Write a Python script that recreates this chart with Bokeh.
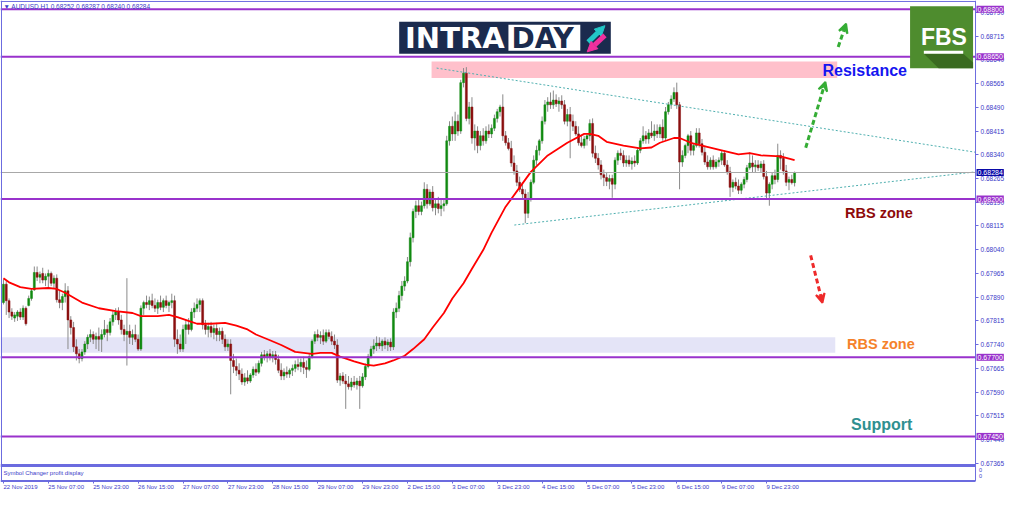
from bokeh.plotting import figure
from bokeh.models import (Range1d, FixedTicker, BoxAnnotation, Label, LabelSet, LinearAxis,
                          ColumnDataSource, Arrow, VeeHead, NormalHead, PrintfTickFormatter,
                          PolyAnnotation)
from bokeh.core.properties import value
from bokeh.embed import file_html
from bokeh.resources import INLINE

# ---------------- data (AUDUSD H1) ----------------
opens = [
    0.67873, 0.67931, 0.67879, 0.67843, 0.67824, 0.67830, 0.67843, 0.67827, 0.67855, 0.67864,
    0.67886, 0.67913, 0.67968, 0.67953, 0.67965, 0.67944, 0.67956, 0.67965, 0.67934, 0.67950,
    0.67882, 0.67873, 0.67892, 0.67910, 0.67818, 0.67794, 0.67733, 0.67711, 0.67696, 0.67717,
    0.67742, 0.67763, 0.67772, 0.67757, 0.67766, 0.67757, 0.67772, 0.67788, 0.67778, 0.67812,
    0.67834, 0.67843, 0.67818, 0.67788, 0.67772, 0.67782, 0.67763, 0.67772, 0.67757, 0.67726,
    0.67855, 0.67873, 0.67867, 0.67879, 0.67864, 0.67855, 0.67873, 0.67858, 0.67879, 0.67864,
    0.67873, 0.67879, 0.67757, 0.67742, 0.67726, 0.67788, 0.67803, 0.67788, 0.67843, 0.67855,
    0.67867, 0.67879, 0.67803, 0.67788, 0.67797, 0.67778, 0.67791, 0.67772, 0.67782, 0.67757,
    0.67733, 0.67742, 0.67690, 0.67671, 0.67659, 0.67647, 0.67622, 0.67635, 0.67625, 0.67644,
    0.67662, 0.67653, 0.67681, 0.67708, 0.67702, 0.67711, 0.67699, 0.67708, 0.67693, 0.67659,
    0.67641, 0.67653, 0.67647, 0.67659, 0.67665, 0.67677, 0.67671, 0.67684, 0.67668, 0.67662,
    0.67702, 0.67751, 0.67772, 0.67763, 0.67769, 0.67751, 0.67778, 0.67766, 0.67751, 0.67739,
    0.67628, 0.67641, 0.67625, 0.67616, 0.67607, 0.67622, 0.67613, 0.67625, 0.67610, 0.67638,
    0.67671, 0.67702, 0.67726, 0.67736, 0.67745, 0.67736, 0.67751, 0.67739, 0.67748, 0.67733,
    0.67843, 0.67855, 0.67895, 0.67925, 0.67941, 0.68002, 0.68078, 0.68161, 0.68179, 0.68161,
    0.68179, 0.68231, 0.68185, 0.68222, 0.68173, 0.68185, 0.68170, 0.68179, 0.68185, 0.68384,
    0.68430, 0.68406, 0.68446, 0.68415, 0.68568, 0.68598, 0.68455, 0.68491, 0.68393, 0.68415,
    0.68369, 0.68400, 0.68384, 0.68415, 0.68406, 0.68424, 0.68455, 0.68476, 0.68491, 0.68400,
    0.68378, 0.68360, 0.68314, 0.68289, 0.68253, 0.68231, 0.68216, 0.68155, 0.68201, 0.68253,
    0.68323, 0.68354, 0.68384, 0.68446, 0.68498, 0.68507, 0.68498, 0.68513, 0.68501, 0.68510,
    0.68498, 0.68446, 0.68467, 0.68446, 0.68430, 0.68406, 0.68378, 0.68369, 0.68390, 0.68400,
    0.68439, 0.68345, 0.68329, 0.68308, 0.68277, 0.68268, 0.68256, 0.68265, 0.68247, 0.68323,
    0.68345, 0.68338, 0.68314, 0.68323, 0.68311, 0.68320, 0.68314, 0.68354, 0.68384, 0.68400,
    0.68390, 0.68409, 0.68400, 0.68415, 0.68406, 0.68427, 0.68393, 0.68476, 0.68498, 0.68516,
    0.68537, 0.68498, 0.68317, 0.68338, 0.68369, 0.68400, 0.68354, 0.68369, 0.68409, 0.68375,
    0.68348, 0.68317, 0.68302, 0.68323, 0.68302, 0.68317, 0.68323, 0.68345, 0.68308, 0.68286,
    0.68237, 0.68253, 0.68241, 0.68228, 0.68247, 0.68262, 0.68299, 0.68314, 0.68302, 0.68308,
    0.68299, 0.68311, 0.68271, 0.68219, 0.68247, 0.68274, 0.68262, 0.68338, 0.68329, 0.68289,
    0.68253, 0.68262, 0.68252,
]
highs = [
    0.67947, 0.67941, 0.67886, 0.67855, 0.67843, 0.67849, 0.67855, 0.67864, 0.67861, 0.67895,
    0.67916, 0.67987, 0.67987, 0.67971, 0.67983, 0.67965, 0.67977, 0.67971, 0.67959, 0.67962,
    0.67910, 0.67901, 0.67934, 0.67925, 0.67830, 0.67812, 0.67757, 0.67726, 0.67726, 0.67751,
    0.67772, 0.67788, 0.67782, 0.67778, 0.67794, 0.67788, 0.67818, 0.67803, 0.67824, 0.67849,
    0.67855, 0.67858, 0.67834, 0.67803, 0.67950, 0.67803, 0.67788, 0.67803, 0.67772, 0.67864,
    0.67879, 0.67895, 0.67892, 0.67901, 0.67886, 0.67882, 0.67895, 0.67886, 0.67895, 0.67879,
    0.67901, 0.67895, 0.67788, 0.67772, 0.67803, 0.67818, 0.67824, 0.67855, 0.67873, 0.67886,
    0.67886, 0.67886, 0.67818, 0.67809, 0.67812, 0.67803, 0.67809, 0.67794, 0.67794, 0.67772,
    0.67757, 0.67757, 0.67711, 0.67696, 0.67681, 0.67665, 0.67650, 0.67659, 0.67650, 0.67671,
    0.67681, 0.67690, 0.67717, 0.67723, 0.67720, 0.67726, 0.67720, 0.67720, 0.67708, 0.67681,
    0.67665, 0.67671, 0.67665, 0.67677, 0.67690, 0.67696, 0.67696, 0.67702, 0.67690, 0.67714,
    0.67757, 0.67782, 0.67788, 0.67782, 0.67788, 0.67788, 0.67788, 0.67782, 0.67772, 0.67757,
    0.67650, 0.67653, 0.67647, 0.67641, 0.67635, 0.67641, 0.67635, 0.67641, 0.67650, 0.67681,
    0.67711, 0.67736, 0.67757, 0.67766, 0.67763, 0.67757, 0.67763, 0.67757, 0.67760, 0.67855,
    0.67873, 0.67910, 0.67941, 0.67956, 0.68017, 0.68094, 0.68170, 0.68195, 0.68201, 0.68192,
    0.68253, 0.68247, 0.68231, 0.68241, 0.68201, 0.68207, 0.68201, 0.68201, 0.68400, 0.68446,
    0.68461, 0.68476, 0.68467, 0.68577, 0.68614, 0.68617, 0.68507, 0.68522, 0.68436, 0.68430,
    0.68415, 0.68424, 0.68430, 0.68436, 0.68436, 0.68467, 0.68485, 0.68498, 0.68531, 0.68415,
    0.68393, 0.68384, 0.68338, 0.68308, 0.68271, 0.68253, 0.68231, 0.68222, 0.68262, 0.68338,
    0.68369, 0.68390, 0.68461, 0.68513, 0.68522, 0.68537, 0.68543, 0.68531, 0.68522, 0.68528,
    0.68513, 0.68485, 0.68491, 0.68467, 0.68446, 0.68430, 0.68400, 0.68400, 0.68406, 0.68452,
    0.68455, 0.68369, 0.68345, 0.68323, 0.68293, 0.68283, 0.68277, 0.68277, 0.68332, 0.68354,
    0.68360, 0.68354, 0.68338, 0.68338, 0.68332, 0.68338, 0.68363, 0.68393, 0.68430, 0.68415,
    0.68421, 0.68446, 0.68436, 0.68436, 0.68436, 0.68452, 0.68491, 0.68507, 0.68528, 0.68553,
    0.68568, 0.68507, 0.68354, 0.68375, 0.68406, 0.68415, 0.68375, 0.68424, 0.68424, 0.68390,
    0.68369, 0.68338, 0.68332, 0.68338, 0.68326, 0.68332, 0.68354, 0.68354, 0.68323, 0.68302,
    0.68262, 0.68268, 0.68262, 0.68253, 0.68271, 0.68308, 0.68348, 0.68338, 0.68323, 0.68323,
    0.68320, 0.68323, 0.68289, 0.68253, 0.68283, 0.68293, 0.68375, 0.68354, 0.68345, 0.68308,
    0.68271, 0.68277, 0.68287,
]
lows = [
    0.67867, 0.67834, 0.67824, 0.67818, 0.67812, 0.67815, 0.67818, 0.67818, 0.67800, 0.67861,
    0.67879, 0.67910, 0.67941, 0.67934, 0.67934, 0.67925, 0.67922, 0.67925, 0.67916, 0.67873,
    0.67855, 0.67849, 0.67873, 0.67726, 0.67772, 0.67717, 0.67690, 0.67681, 0.67687, 0.67708,
    0.67726, 0.67748, 0.67742, 0.67726, 0.67720, 0.67717, 0.67763, 0.67751, 0.67769, 0.67800,
    0.67818, 0.67803, 0.67772, 0.67751, 0.67674, 0.67742, 0.67739, 0.67748, 0.67720, 0.67720,
    0.67834, 0.67855, 0.67849, 0.67855, 0.67843, 0.67837, 0.67849, 0.67843, 0.67855, 0.67843,
    0.67855, 0.67733, 0.67711, 0.67717, 0.67717, 0.67742, 0.67772, 0.67782, 0.67824, 0.67843,
    0.67843, 0.67788, 0.67772, 0.67763, 0.67763, 0.67757, 0.67751, 0.67751, 0.67742, 0.67720,
    0.67720, 0.67583, 0.67650, 0.67641, 0.67628, 0.67613, 0.67610, 0.67616, 0.67619, 0.67635,
    0.67641, 0.67647, 0.67671, 0.67690, 0.67684, 0.67690, 0.67684, 0.67677, 0.67650, 0.67628,
    0.67628, 0.67635, 0.67635, 0.67641, 0.67653, 0.67659, 0.67653, 0.67647, 0.67635, 0.67656,
    0.67696, 0.67742, 0.67751, 0.67742, 0.67739, 0.67745, 0.67757, 0.67739, 0.67726, 0.67619,
    0.67610, 0.67616, 0.67537, 0.67598, 0.67595, 0.67604, 0.67598, 0.67537, 0.67604, 0.67628,
    0.67665, 0.67696, 0.67711, 0.67720, 0.67726, 0.67720, 0.67726, 0.67720, 0.67720, 0.67723,
    0.67824, 0.67843, 0.67879, 0.67910, 0.67934, 0.67987, 0.68063, 0.68140, 0.68149, 0.68149,
    0.68170, 0.68170, 0.68179, 0.68161, 0.68149, 0.68155, 0.68146, 0.68161, 0.68179, 0.68369,
    0.68384, 0.68384, 0.68400, 0.68406, 0.68553, 0.68446, 0.68436, 0.68375, 0.68354, 0.68345,
    0.68354, 0.68369, 0.68375, 0.68393, 0.68393, 0.68415, 0.68442, 0.68461, 0.68384, 0.68369,
    0.68354, 0.68302, 0.68277, 0.68241, 0.68222, 0.68201, 0.68124, 0.68140, 0.68192, 0.68247,
    0.68308, 0.68338, 0.68375, 0.68436, 0.68476, 0.68485, 0.68485, 0.68491, 0.68476, 0.68485,
    0.68436, 0.68430, 0.68329, 0.68415, 0.68400, 0.68369, 0.68363, 0.68360, 0.68369, 0.68384,
    0.68332, 0.68314, 0.68293, 0.68262, 0.68241, 0.68241, 0.68231, 0.68204, 0.68231, 0.68308,
    0.68323, 0.68302, 0.68302, 0.68302, 0.68293, 0.68302, 0.68308, 0.68345, 0.68375, 0.68375,
    0.68375, 0.68393, 0.68384, 0.68393, 0.68393, 0.68384, 0.68384, 0.68467, 0.68485, 0.68507,
    0.68485, 0.68231, 0.68302, 0.68329, 0.68345, 0.68338, 0.68338, 0.68363, 0.68363, 0.68338,
    0.68308, 0.68293, 0.68293, 0.68293, 0.68296, 0.68302, 0.68308, 0.68302, 0.68277, 0.68207,
    0.68222, 0.68231, 0.68216, 0.68216, 0.68234, 0.68253, 0.68293, 0.68283, 0.68283, 0.68289,
    0.68283, 0.68262, 0.68201, 0.68179, 0.68231, 0.68247, 0.68253, 0.68293, 0.68277, 0.68241,
    0.68228, 0.68246, 0.68240,
]
closes = [
    0.67931, 0.67879, 0.67843, 0.67830, 0.67834, 0.67843, 0.67827, 0.67855, 0.67806, 0.67886,
    0.67910, 0.67968, 0.67953, 0.67962, 0.67944, 0.67956, 0.67965, 0.67934, 0.67950, 0.67882,
    0.67873, 0.67892, 0.67910, 0.67818, 0.67794, 0.67733, 0.67711, 0.67696, 0.67717, 0.67742,
    0.67763, 0.67772, 0.67757, 0.67766, 0.67757, 0.67772, 0.67788, 0.67778, 0.67812, 0.67834,
    0.67843, 0.67818, 0.67788, 0.67772, 0.67782, 0.67763, 0.67772, 0.67757, 0.67726, 0.67855,
    0.67873, 0.67867, 0.67879, 0.67864, 0.67855, 0.67873, 0.67858, 0.67879, 0.67864, 0.67873,
    0.67879, 0.67757, 0.67742, 0.67726, 0.67788, 0.67803, 0.67788, 0.67843, 0.67855, 0.67867,
    0.67879, 0.67803, 0.67788, 0.67797, 0.67778, 0.67791, 0.67772, 0.67782, 0.67757, 0.67733,
    0.67742, 0.67690, 0.67671, 0.67659, 0.67647, 0.67622, 0.67635, 0.67625, 0.67644, 0.67662,
    0.67653, 0.67681, 0.67708, 0.67702, 0.67711, 0.67699, 0.67708, 0.67693, 0.67659, 0.67641,
    0.67653, 0.67647, 0.67659, 0.67665, 0.67677, 0.67671, 0.67684, 0.67668, 0.67662, 0.67702,
    0.67751, 0.67772, 0.67763, 0.67769, 0.67751, 0.67778, 0.67766, 0.67751, 0.67739, 0.67628,
    0.67641, 0.67625, 0.67616, 0.67607, 0.67622, 0.67613, 0.67625, 0.67610, 0.67638, 0.67671,
    0.67702, 0.67726, 0.67736, 0.67745, 0.67736, 0.67751, 0.67739, 0.67748, 0.67733, 0.67843,
    0.67855, 0.67895, 0.67925, 0.67941, 0.68002, 0.68078, 0.68161, 0.68179, 0.68161, 0.68179,
    0.68231, 0.68185, 0.68222, 0.68173, 0.68185, 0.68170, 0.68179, 0.68185, 0.68384, 0.68430,
    0.68406, 0.68446, 0.68415, 0.68568, 0.68598, 0.68455, 0.68491, 0.68393, 0.68415, 0.68369,
    0.68400, 0.68384, 0.68415, 0.68406, 0.68424, 0.68455, 0.68476, 0.68491, 0.68400, 0.68378,
    0.68360, 0.68314, 0.68289, 0.68253, 0.68231, 0.68216, 0.68155, 0.68201, 0.68253, 0.68323,
    0.68354, 0.68384, 0.68446, 0.68498, 0.68507, 0.68498, 0.68513, 0.68501, 0.68510, 0.68498,
    0.68446, 0.68467, 0.68446, 0.68430, 0.68406, 0.68378, 0.68369, 0.68390, 0.68400, 0.68439,
    0.68345, 0.68329, 0.68308, 0.68277, 0.68268, 0.68256, 0.68265, 0.68247, 0.68323, 0.68345,
    0.68338, 0.68314, 0.68323, 0.68311, 0.68320, 0.68314, 0.68354, 0.68384, 0.68400, 0.68390,
    0.68409, 0.68400, 0.68415, 0.68406, 0.68427, 0.68393, 0.68476, 0.68498, 0.68516, 0.68537,
    0.68498, 0.68317, 0.68338, 0.68369, 0.68400, 0.68354, 0.68369, 0.68409, 0.68375, 0.68348,
    0.68317, 0.68302, 0.68323, 0.68302, 0.68317, 0.68323, 0.68345, 0.68308, 0.68286, 0.68237,
    0.68253, 0.68241, 0.68228, 0.68247, 0.68262, 0.68299, 0.68314, 0.68302, 0.68308, 0.68299,
    0.68311, 0.68271, 0.68219, 0.68247, 0.68274, 0.68262, 0.68338, 0.68329, 0.68289, 0.68253,
    0.68262, 0.68252, 0.68284,
]

# moving average (red line), read at selected bars
ma_bars = [0, 2, 6, 10, 16, 19, 22, 28, 34, 40, 46, 49, 55, 59, 62, 67, 69, 74, 79, 83,
           87, 90, 95, 99, 104, 110, 113, 117, 120, 125, 129, 132, 136, 139, 143, 146, 150, 153, 157, 160,
           164, 167, 171, 174, 179, 184, 188, 194, 201, 207, 209, 212, 215, 221, 227, 231, 234, 239, 241, 245,
           249, 256, 262, 266, 270, 277, 282]
ma_values = [0.67950, 0.67937, 0.67922, 0.67916, 0.67919, 0.67916, 0.67904, 0.67873, 0.67855, 0.67846,
             0.67840, 0.67830, 0.67830, 0.67834, 0.67827, 0.67812, 0.67806, 0.67806, 0.67809, 0.67800,
             0.67788, 0.67772, 0.67754, 0.67739, 0.67717, 0.67711, 0.67714, 0.67714, 0.67702, 0.67687,
             0.67677, 0.67674, 0.67681, 0.67690, 0.67705, 0.67726, 0.67757, 0.67794, 0.67840, 0.67886,
             0.67934, 0.67980, 0.68039, 0.68094, 0.68176, 0.68237, 0.68286, 0.68338, 0.68378, 0.68406,
             0.68406, 0.68400, 0.68381, 0.68369, 0.68360, 0.68363, 0.68378, 0.68393, 0.68393, 0.68378,
             0.68369, 0.68354, 0.68341, 0.68345, 0.68338, 0.68335, 0.68323]

# time axis labels, one every 16 bars
time_labels = ["22 Nov 2019", "25 Nov 07:00", "25 Nov 23:00", "26 Nov 15:00", "27 Nov 07:00",
               "27 Nov 23:00", "28 Nov 15:00", "29 Nov 07:00", "29 Nov 23:00", "2 Dec 15:00",
               "3 Dec 07:00", "3 Dec 23:00", "4 Dec 15:00", "5 Dec 07:00", "5 Dec 23:00",
               "6 Dec 15:00", "9 Dec 07:00", "9 Dec 23:00"]
time_label_bars = [0, 16, 32, 48, 64, 80, 96, 112, 128, 144, 160, 176, 192, 208, 224, 240, 256, 272]

price_ticks = [0.67365, 0.67440, 0.67515, 0.67590, 0.67665, 0.67740, 0.67815, 0.67890, 0.67965, 0.68040,
               0.68115, 0.68190, 0.68265, 0.68340, 0.68415, 0.68490, 0.68565, 0.68640, 0.68715, 0.68790]

# drawn objects
levels = [0.68800, 0.68650, 0.68200, 0.67700, 0.67450]
resistance_zone = [0.68583, 0.68635]
resistance_zone_bars = [152.6, 297.2]
rbs_zone = [0.67714, 0.67763]
rbs_zone_end_bar = 296.5
upper_trend_bars = [154.4, 346.5]
upper_trend_prices = [0.68614, 0.68348]
lower_trend_bars = [182.1, 346.5]
lower_trend_prices = [0.68118, 0.68286]


# ---------------- geometry helpers (decorations / frame only) ----------------
def bx(px):
    return (px - 3.0) / 2.85


def py(px):
    return 0.688 - (px - 9.0) / 32667.0


XL, XR = bx(0), bx(1024)
YB, YT = py(511), py(0)
AXIS_X = bx(990.5)
AXIS_Y = py(496)

AX = "#6B6BDF"
TXT = "#3C3CC8"
PURPLE = "#9932CC"
FONT = "Liberation Sans"

p = figure(width=1008, height=495, x_range=Range1d(XL, XR), y_range=Range1d(YB, YT),
           output_backend="svg", toolbar_location=None, x_axis_location=None, y_axis_location=None,
           min_border=0, min_border_left=0, min_border_right=0, min_border_top=0, min_border_bottom=0,
           background_fill_color="white", border_fill_color="white")
p.xgrid.visible = False
p.ygrid.visible = False
p.outline_line_color = None

# price axis drawn at the right edge of the chart area
yax = LinearAxis(fixed_location=AXIS_X, ticker=FixedTicker(ticks=price_ticks),
                 formatter=PrintfTickFormatter(format="%.5f"))
yax.axis_line_color = None
yax.major_tick_line_color = AX
yax.major_tick_out = 3
yax.major_tick_in = 0
yax.minor_tick_line_color = None
yax.major_label_text_font = FONT
yax.major_label_text_font_size = "6.5px"
yax.major_label_text_color = TXT
yax.major_label_standoff = 2
p.add_layout(yax, "right")

# time axis (ticks) at the bottom of the chart area
xax = LinearAxis(fixed_location=AXIS_Y, ticker=FixedTicker(ticks=time_label_bars))
xax.axis_line_color = None
xax.major_tick_line_color = AX
xax.major_tick_out = 3
xax.major_tick_in = 0
xax.minor_tick_line_color = None
xax.major_label_text_color = None
xax.major_label_text_font_size = "6px"
p.add_layout(xax, "below")

# zones (behind candles)
p.add_layout(BoxAnnotation(left=resistance_zone_bars[0], right=resistance_zone_bars[1],
                           bottom=resistance_zone[0], top=resistance_zone[1],
                           fill_color="#FFC0CB", fill_alpha=1, line_alpha=0, level="underlay"))
p.add_layout(BoxAnnotation(left=XL, right=rbs_zone_end_bar, bottom=rbs_zone[0], top=rbs_zone[1],
                           fill_color="#E4E4F7", fill_alpha=1, line_alpha=0, level="underlay"))

# candles
idx = list(range(len(closes)))
tops = [max(o, c) for o, c in zip(opens, closes)]
bots = [min(o, c) for o, c in zip(opens, closes)]
cols = ["#118A11" if c >= o else "#8B0F0F" for o, c in zip(opens, closes)]
src = ColumnDataSource(dict(x=idx, h=highs, l=lows, top=tops, bot=bots, col=cols))
p.segment(x0="x", y0="h", x1="x", y1="l", source=src, line_color="#8A8A8A", line_width=1)
p.vbar(x="x", width=0.7, top="top", bottom="bot", source=src, fill_color="col", line_color="col",
       line_width=0.5)

# moving average
p.line(ma_bars, ma_values, line_color="#FF0000", line_width=1.8)

# trend lines
p.line(upper_trend_bars, upper_trend_prices, line_color="#4FAFAF", line_width=1, line_dash="2 2")
p.line(lower_trend_bars, lower_trend_prices, line_color="#4FAFAF", line_width=1, line_dash="2 2")

# current price line and horizontal levels (up to the price scale)
p.segment(x0=[XL], y0=[closes[-1]], x1=[AXIS_X], y1=[closes[-1]], line_color="#A8A8A8", line_width=1)
p.segment(x0=[XL] * len(levels), y0=levels, x1=[AXIS_X] * len(levels), y1=levels,
          line_color=PURPLE, line_width=2)

# chart frame: left/top border, price-scale line, sub-window separator, time-scale line
p.segment(x0=[bx(1), XL, AXIS_X, XL, XL], y0=[YT, py(1), YT, py(480), AXIS_Y],
          x1=[bx(1), AXIS_X, AXIS_X, AXIS_X, AXIS_X], y1=[AXIS_Y, py(1), AXIS_Y, py(480), AXIS_Y],
          line_color=AX, line_width=[1, 1, 1, 3, 2])

p.add_layout(Label(x=bx(3), y=py(487.5), text="Symbol Changer profit display",
                   text_font=FONT, text_font_size="6px", text_color=TXT, text_baseline="middle"))
p.add_layout(Label(x=bx(994), y=py(485), text="0", text_font=FONT, text_font_size="5.5px",
                   text_color=TXT, text_baseline="middle"))
p.add_layout(Label(x=bx(994), y=py(491), text="0", text_font=FONT, text_font_size="5.5px",
                   text_color=TXT, text_baseline="middle"))

# right price tags
for lv in levels:
    p.add_layout(Label(x=AXIS_X, y=lv, x_offset=1, text=f"{lv:.5f}", text_font=FONT,
                       text_font_size="7px", text_color="white", text_baseline="middle",
                       background_fill_color=PURPLE, padding=1))
p.add_layout(Label(x=AXIS_X, y=closes[-1], x_offset=1, text=f"{closes[-1]:.5f}", text_font=FONT,
                   text_font_size="7px", text_color="white", text_baseline="middle",
                   background_fill_color="#0A0AA8", padding=1))

# time labels (left aligned at their tick, like MT4)
tsrc = ColumnDataSource(dict(x=time_label_bars, y=[AXIS_Y] * len(time_label_bars), t=time_labels))
p.add_layout(LabelSet(x="x", y="y", text="t", source=tsrc, text_align="left", text_baseline="top",
                      y_offset=-3.5, x_offset=0, text_font=value(FONT),
                      text_font_size=value("6px"), text_color=TXT))

# header
p.add_layout(Label(x=bx(3), y=py(6), text=f"\u25bc AUDUSD,H1 {opens[-1]:.5f} {highs[-1]:.5f} "
                                          f"{lows[-1]:.5f} {closes[-1]:.5f}",
                   text_font=FONT, text_font_size="6.5px", text_color=TXT, text_baseline="middle"))

# arrows
GREEN = "#35AD35"
RED = "#EE2A2A"
for (xs, ys, ye, xe, col) in [
    (818, 152, 84, 838, GREEN),
    (851, 48, 24, 859, GREEN),
    (823, 263, 312, 835, RED),
]:
    p.add_layout(Arrow(end=VeeHead(size=9, fill_color=col, line_color=col, line_width=2),
                       x_start=bx(xs), y_start=py(ys), x_end=bx(xe), y_end=py(ye),
                       line_color=col, line_width=3, line_dash="5 3"))

# annotation texts
for (txt, xpx, ypx, col, size) in [
    ("Resistance", 835, 72, "#1515F0", "16px"),
    ("RBS zone", 858, 219, "#8E0A0A", "14.5px"),
    ("RBS zone", 860, 355, "#F5822A", "14.5px"),
    ("Support", 864, 438, "#2F9090", "16px"),
]:
    p.add_layout(Label(x=bx(xpx), y=py(ypx), text=txt, text_font=FONT,
                       text_font_style="bold", text_font_size=size, text_color=col,
                       text_baseline="middle"))

# INTRADAY logo
NAVY = "#1B2B4E"
p.add_layout(BoxAnnotation(left=bx(405), right=bx(620), top=py(22), bottom=py(55),
                           fill_color=NAVY, fill_alpha=1, line_alpha=0, level="overlay"))
p.add_layout(Label(x=bx(411), y=py(39), text="INTRA", text_font="DejaVu Sans", text_font_style="bold",
                   text_font_size="29px", text_color="white", text_baseline="middle", level="overlay"))
p.add_layout(BoxAnnotation(left=bx(516), right=bx(589), top=py(25), bottom=py(52),
                           fill_color="white", fill_alpha=1, line_alpha=0, level="overlay"))
p.add_layout(Label(x=bx(519), y=py(39), text="DAY", text_font="DejaVu Sans", text_font_style="bold",
                   text_font_size="28px", text_color=NAVY, text_baseline="middle", level="overlay"))
p.add_layout(Arrow(end=NormalHead(size=10, fill_color="#22C7C7", line_color="#22C7C7"),
                   x_start=bx(597), y_start=py(43), x_end=bx(614), y_end=py(26),
                   line_color="#22C7C7", line_width=5, level="overlay"))
p.add_layout(Arrow(end=NormalHead(size=10, fill_color="#F0309E", line_color="#F0309E"),
                   x_start=bx(614), y_start=py(36), x_end=bx(596), y_end=py(53),
                   line_color="#F0309E", line_width=5, level="overlay"))

# FBS logo
p.add_layout(BoxAnnotation(left=bx(924), right=bx(988), top=py(6), bottom=py(70),
                           fill_color="#4E8C2E", fill_alpha=1, line_alpha=0, level="overlay"))
p.add_layout(PolyAnnotation(xs=[bx(938), bx(978), bx(988), bx(988), bx(953)],
                            ys=[py(55), py(55), py(64), py(70), py(70)],
                            fill_color="#3A6B20", fill_alpha=1, line_alpha=0, level="overlay"))
p.add_layout(Label(x=bx(935), y=py(38), text="FBS", text_font=FONT,
                   text_font_style="bold", text_font_size="23px", text_color="white",
                   text_baseline="middle", level="overlay"))
p.add_layout(BoxAnnotation(left=bx(938), right=bx(978), top=py(52), bottom=py(55),
                           fill_color="white", fill_alpha=1, line_alpha=0, level="overlay"))

open("out.html", "w").write(file_html(p, INLINE))
